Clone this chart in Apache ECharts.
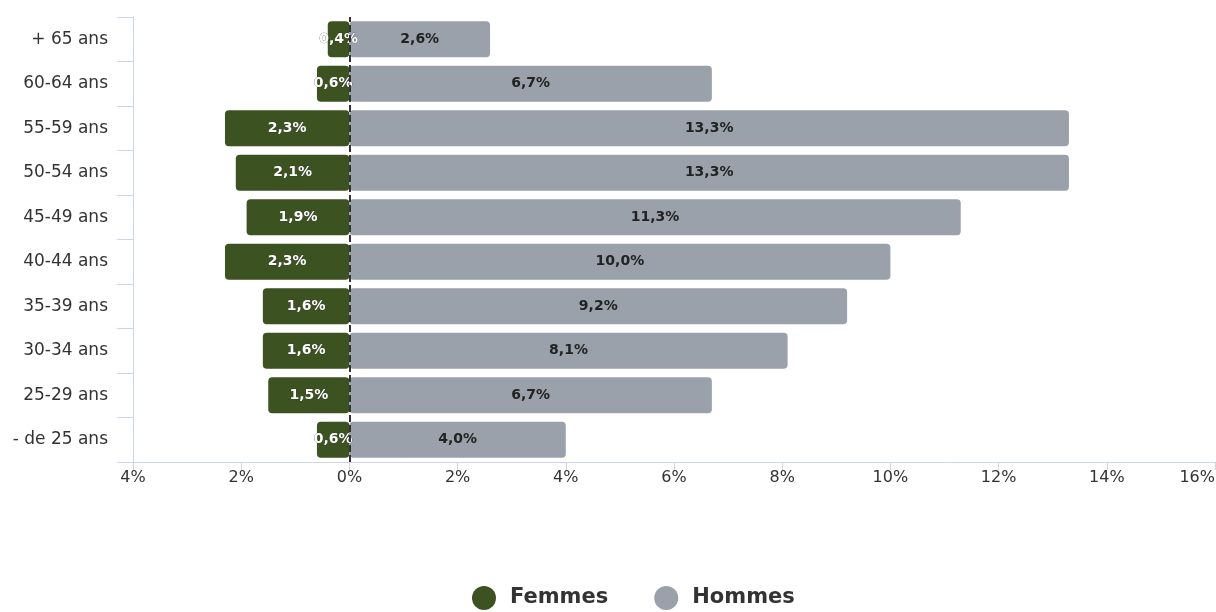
<!DOCTYPE html>
<html>
<head>
<meta charset="utf-8">
<script src="https://cdn.jsdelivr.net/npm/echarts@6/dist/echarts.min.js"></script>
<style>
  html, body { margin: 0; padding: 0; background: #fff; }
  #chart_pyramid { width: 1216px; height: 612px; }
</style>
</head>
<body>
<div id="chart_pyramid"></div>
<script>
// tranches d'âge, du bas vers le haut
var categories = ['- de 25 ans', '25-29 ans', '30-34 ans', '35-39 ans', '40-44 ans',
    '45-49 ans', '50-54 ans', '55-59 ans', '60-64 ans', '+ 65 ans'];
var femmes = [0.6, 1.5, 1.6, 1.6, 2.3, 1.9, 2.1, 2.3, 0.6, 0.4];
var hommes = [4.0, 6.7, 8.1, 9.2, 10.0, 11.3, 13.3, 13.3, 6.7, 2.6];
var xTicks = [-4, -2, 0, 2, 4, 6, 8, 10, 12, 14, 16];

var chartDom = document.getElementById('chart_pyramid');
var myChart = echarts.init(chartDom);
var option;

var axisColor = '#ccd6eb';
var font = 'DejaVu Sans';

function pct(v) {
    return Math.abs(v).toFixed(1).replace('.', ',') + '%';
}

option = {
    animation: false,
    textStyle: { fontFamily: font },
    grid: {
        left: 133,
        right: 1,
        top: 17,
        bottom: 150,
        containLabel: false,
        outerBoundsMode: 'none'
    },
    legend: {
        data: ['Femmes', 'Hommes'],
        top: 586,
        left: 472,
        padding: 0,
        icon: 'circle',
        itemWidth: 24,
        itemHeight: 24,
        itemGap: 46,
        textStyle: {
            fontFamily: font, fontSize: 21, fontWeight: 'bold', color: '#333',
            padding: [0, 0, 0, 9]
        }
    },
    xAxis: {
        type: 'value',
        min: xTicks[0],
        max: xTicks[xTicks.length - 1],
        interval: 2,
        splitLine: { show: false },
        axisLine: { show: true, onZero: false, lineStyle: { color: axisColor } },
        axisTick: { show: true, length: 8, lineStyle: { color: axisColor } },
        axisLabel: {
            color: '#333',
            fontSize: 16,
            margin: 8,
            alignMaxLabel: 'right',
            formatter: function (v) { return Math.abs(v) + '%'; }
        }
    },
    yAxis: {
        type: 'category',
        data: categories,
        axisLine: { show: true, onZero: false, lineStyle: { color: axisColor } },
        axisTick: { show: true, length: 16, lineStyle: { color: axisColor } },
        axisLabel: { color: '#333', fontSize: 17, margin: 25 }
    },
    series: [
        {
            name: 'Femmes',
            type: 'bar',
            barWidth: '81%',
            barGap: '-100%',
            data: femmes.map(function (v) { return -v; }),
            itemStyle: { color: '#3d5221', borderRadius: 4 },
            label: {
                show: true,
                position: 'inside',
                color: '#fff',
                fontSize: 14,
                fontWeight: 'bold',
                textBorderColor: '#333',
                textBorderWidth: 0.5,
                formatter: function (p) { return pct(p.value); }
            }
        },
        {
            name: 'Hommes',
            type: 'bar',
            barWidth: '81%',
            data: hommes,
            itemStyle: { color: '#9aa1aa', borderRadius: 4 },
            label: {
                show: true,
                position: 'inside',
                color: '#222',
                fontSize: 14,
                fontWeight: 'bold',
                formatter: function (p) { return pct(p.value); }
            },
            markLine: {
                silent: true,
                symbol: ['none', 'none'],
                label: { show: false },
                lineStyle: { color: '#333', type: [7, 3], width: 2 },
                data: [{ xAxis: 0 }]
            }
        }
    ]
};

option && myChart.setOption(option);
</script>
</body>
</html>
